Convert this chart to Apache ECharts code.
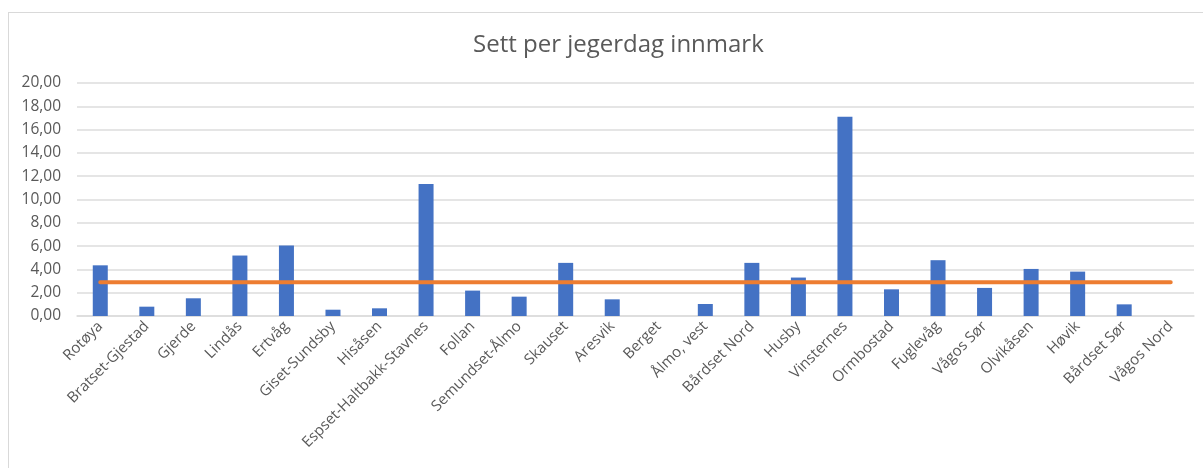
<!DOCTYPE html>
<html>
<head>
<meta charset="utf-8">
<script src="https://cdn.jsdelivr.net/npm/echarts@6/dist/echarts.min.js"></script>
<style>
  html, body { margin: 0; padding: 0; background: #fff; }
  #frame { position: absolute; left: 8px; top: 12px; width: 1300px; height: 600px; border: 1px solid #d9d9d9; box-sizing: border-box; }
  #chart { position: absolute; left: 0; top: 0; width: 1203px; height: 468px; }
</style>
</head>
<body>
<div id="frame"></div>
<div id="chart"></div>
<script>
const categories = ["Rotøya", "Bratset-Gjestad", "Gjerde", "Lindås", "Ertvåg", "Giset-Sundsby", "Hisåsen", "Espset-Haltbakk-Stavnes", "Follan", "Semundset-Ålmo", "Skauset", "Aresvik", "Berget", "Ålmo, vest", "Bårdset Nord", "Husby", "Vinsternes", "Ormbostad", "Fuglevåg", "Vågos Sør", "Olvikåsen", "Høvik", "Bårdset Sør", "Vågos Nord"];
const settPerJegerdag = [4.35, 0.8, 1.52, 5.19, 6.05, 0.54, 0.66, 11.32, 2.18, 1.66, 4.56, 1.43, 0, 1.03, 4.56, 3.3, 17.11, 2.29, 4.79, 2.41, 4.04, 3.81, 1.0, 0];
const gjennomsnitt = [2.9, 2.9, 2.9, 2.9, 2.9, 2.9, 2.9, 2.9, 2.9, 2.9, 2.9, 2.9, 2.9, 2.9, 2.9, 2.9, 2.9, 2.9, 2.9, 2.9, 2.9, 2.9, 2.9, 2.9];
const yTicks = [0, 2, 4, 6, 8, 10, 12, 14, 16, 18, 20];

const chart = echarts.init(document.getElementById('chart'), null, { renderer: 'canvas' });
const font = "'Open Sans', 'Noto Sans', sans-serif";
chart.setOption({
  backgroundColor: 'transparent',
  animation: false,
  title: {
    text: 'Sett per jegerdag innmark',
    left: 468,
    top: 28,
    textStyle: { fontFamily: font, fontSize: 24, fontWeight: 'normal', color: '#595959' }
  },
  grid: { left: 77, right: 9, top: 83, bottom: 152, containLabel: false },
  xAxis: {
    type: 'category',
    data: categories,
    axisLine: { lineStyle: { color: '#dcdcdc', width: 1.5 } },
    axisTick: { show: false },
    axisLabel: { rotate: 45, interval: 0, margin: 8, fontFamily: font, fontSize: 15, color: '#595959' }
  },
  yAxis: {
    type: 'value',
    min: yTicks[0],
    max: yTicks[yTicks.length - 1],
    interval: 2,
    axisLine: { show: false },
    axisTick: { show: false },
    splitLine: { lineStyle: { color: '#dcdcdc', width: 1.5 } },
    axisLabel: {
      margin: 16, fontFamily: font, fontSize: 15.5, color: '#595959',
      formatter: v => v.toFixed(2).replace('.', ',')
    }
  },
  series: [
    {
      type: 'bar',
      data: settPerJegerdag,
      barWidth: 15,
      itemStyle: { color: '#4472c4' }
    },
    {
      type: 'line',
      data: gjennomsnitt,
      symbol: 'none',
      lineStyle: { color: '#ed7d31', width: 4, cap: 'round' },
      z: 3
    }
  ]
});
</script>
</body>
</html>
